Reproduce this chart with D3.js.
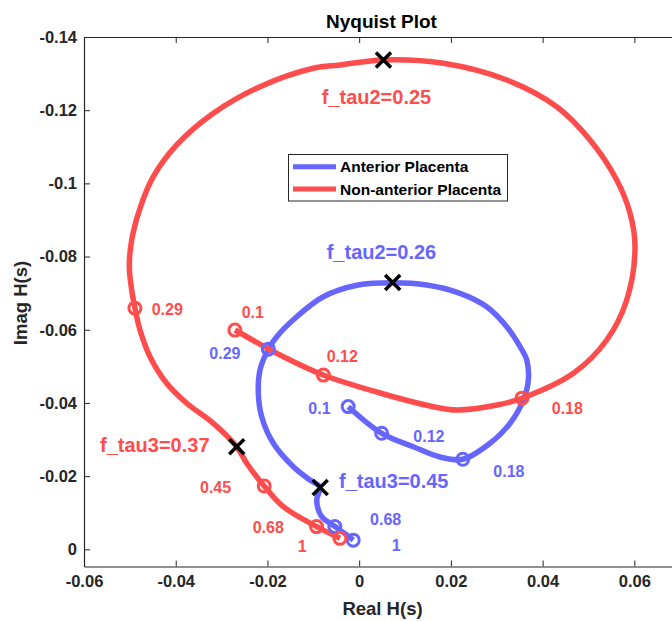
<!DOCTYPE html>
<html>
<head>
<meta charset="utf-8">
<script src="https://cdn.jsdelivr.net/npm/d3@7"></script>
<style>
  html, body { margin: 0; padding: 0; background: #ffffff; overflow: hidden; }
  svg { display: block; font-family: "Liberation Sans", Arial, Helvetica, sans-serif; font-weight: bold; }
</style>
</head>
<body>
<svg id="chart" width="672" height="621"></svg>
<script>
// ---------------- data ----------------
const seriesNames = ["Anterior Placenta", "Non-anterior Placenta"];
const seriesColors = ["#6666ff", "#ff4d4d"];

// Non-anterior placenta (red) Nyquist trace, f = 0.1 ... 1
const redRe = [-0.02707, -0.01726, -0.00782, 0.00455, 0.01545, 0.02134, 0.03006, 0.03545,
  0.0467, 0.05398, 0.05834, 0.06015, 0.05906, 0.05616, 0.05034, 0.04308, 0.03218, 0.01835,
  0.00527, -0.00418, -0.01, -0.02162, -0.0318, -0.03979, -0.04489, -0.04779, -0.0496,
  -0.05012, -0.0496, -0.04888, -0.04779, -0.04561, -0.04197, -0.0376, -0.0318, -0.0267,
  -0.02452, -0.0209, -0.01654, -0.00926, -0.00418];
const redIm = [-0.05993, -0.0531, -0.04763, -0.04271, -0.03916, -0.03807, -0.03943, -0.04127,
  -0.0481, -0.0572, -0.06813, -0.08269, -0.09182, -0.10092, -0.11185, -0.12095, -0.12825, -0.13281,
  -0.13371, -0.13235, -0.13145, -0.12642, -0.11915, -0.11049, -0.10182, -0.09319, -0.08452,
  -0.07723, -0.07086, -0.06586, -0.05993, -0.05263, -0.04536, -0.0399, -0.03443, -0.02804,
  -0.0235, -0.01757, -0.01164, -0.00618, -0.003];

// Anterior placenta (blue) Nyquist trace, f = 0.1 ... 1
const blueRe = [-0.00237, 0.00492, 0.01181, 0.01763, 0.02258, 0.02853, 0.0329, 0.0358, 0.03689,
  0.03654, 0.03508, 0.03218, 0.02781, 0.02199, 0.01473, 0.00732, -0.00025, -0.00782, -0.01362,
  -0.01798, -0.01981, -0.02162, -0.02199, -0.02125, -0.01872, -0.01436, -0.01072, -0.00854,
  -0.00926, -0.00817, -0.00527, -0.00272, -0.00128];
const blueIm = [-0.03897, -0.0317, -0.02804, -0.02522, -0.0246, -0.02897, -0.03443, -0.0408, -0.04627,
  -0.05173, -0.05537, -0.06083, -0.0663, -0.06996, -0.07223, -0.07286, -0.07223, -0.06903, -0.06356,
  -0.0581, -0.05466, -0.049, -0.04263, -0.03624, -0.02897, -0.02257, -0.01894, -0.01694,
  -0.01347, -0.00891, -0.00623, -0.00391, -0.00254];

// frequency markers (circles) and their labels
const redMarkFreq = ["0.1", "0.12", "0.18", "0.29", "0.45", "0.68", "1"];
const redMarkRe = [-0.0271, -0.0078, 0.0355, -0.0489, -0.0207, -0.0093, -0.0042];
const redMarkIm = [-0.0599, -0.0476, -0.0413, -0.0659, -0.0173, -0.0062, -0.0030];
const redLabRe = [-0.02561, -0.00708, 0.04199, -0.04524, -0.0347, -0.02321, -0.0134];
const redLabIm = [-0.06313, -0.05127, -0.03689, -0.06403, -0.0153, -0.00454, 0.00066];

const blueMarkFreq = ["0.1", "0.12", "0.18", "0.29", "0.68", "1"];
const blueMarkRe = [-0.0024, 0.0049, 0.0226, -0.0198, -0.0053, -0.0013];
const blueMarkIm = [-0.0390, -0.0317, -0.0246, -0.0547, -0.0062, -0.0025];
const blueLabRe = [-0.01109, 0.01181, 0.02925, -0.03268, 0.00237, 0.0071];
const blueLabIm = [-0.03697, -0.02941, -0.01984, -0.05192, -0.00664, 0.00038];

// characteristic frequencies (black crosses) and their labels
const crossText = ["f_tau2=0.25", "f_tau3=0.37", "f_tau2=0.26", "f_tau3=0.45"];
const crossSeries = [1, 1, 0, 0];
const crossRe = [0.0053, -0.0267, 0.0073, -0.0085];
const crossIm = [-0.1337, -0.0280, -0.0729, -0.0169];
const crossLabRe = [-0.00817, -0.05651, -0.00708, -0.0044];
const crossLabIm = [-0.12169, -0.02667, -0.07925, -0.01684];

// axes
const xTicks = [-0.06, -0.04, -0.02, 0, 0.02, 0.04, 0.06];
const xTickLabels = ["-0.06", "-0.04", "-0.02", "0", "0.02", "0.04", "0.06"];
const yTicks = [-0.14, -0.12, -0.1, -0.08, -0.06, -0.04, -0.02, 0];
const yTickLabels = ["-0.14", "-0.12", "-0.1", "-0.08", "-0.06", "-0.04", "-0.02", "0"];
const xDomain = [-0.06, 0.07];
const yDomain = [-0.14, 0.0047];

// ---------------- drawing ----------------
const svg = d3.select("#chart");
const mLeft = 84, mTop = 37, mBottom = 566.5, mRight = 680.2;
const axisColor = "#262626";

const x = d3.scaleLinear().domain(xDomain).range([mLeft, mRight]);
const y = d3.scaleLinear().domain(yDomain).range([mTop, mBottom]);

// axes
const gx = svg.append("g").attr("transform", `translate(0,${mBottom})`)
  .call(d3.axisBottom(x).tickValues(xTicks).tickSizeInner(-6).tickSizeOuter(0).tickPadding(9)
    .tickFormat((d, i) => xTickLabels[i]));
const gxTop = svg.append("g").attr("transform", `translate(0,${mTop})`)
  .call(d3.axisTop(x).tickValues(xTicks).tickSizeInner(-6).tickSizeOuter(0).tickFormat(""));
const gy = svg.append("g").attr("transform", `translate(${mLeft},0)`)
  .call(d3.axisLeft(y).tickValues(yTicks).tickSizeInner(-6).tickSizeOuter(0).tickPadding(7)
    .tickFormat((d, i) => yTickLabels[i]));
[gx, gxTop, gy].forEach(g => {
  g.selectAll("path.domain").attr("stroke", axisColor).attr("stroke-width", 1.2);
  g.selectAll(".tick line").attr("stroke", axisColor).attr("stroke-width", 1);
  g.selectAll(".tick text").attr("fill", axisColor)
    .style("font-family", "'Liberation Sans', Arial, sans-serif")
    .style("font-weight", "bold").style("font-size", "16.5px");
});

// title & labels
svg.append("text").attr("x", 381.5).attr("y", 27.5)
  .attr("text-anchor", "middle").attr("fill", "#000").style("font-size", "19px").text("Nyquist Plot");
svg.append("text").attr("x", 382.5).attr("y", 615)
  .attr("text-anchor", "middle").attr("fill", axisColor).style("font-size", "18.5px").text("Real H(s)");
svg.append("text").attr("transform", "translate(27,303) rotate(-90)")
  .attr("text-anchor", "middle").attr("fill", axisColor).style("font-size", "18.5px").text("Imag H(s)");

const plot = svg.append("g");
const line = d3.line().x(d => x(d[0])).y(d => y(d[1])).curve(d3.curveCatmullRom.alpha(0.5));

const blueData = blueRe.map((v, i) => [v, blueIm[i]]);
const redData = redRe.map((v, i) => [v, redIm[i]]);

plot.append("path").datum(blueData).attr("d", line).attr("fill", "none")
  .attr("stroke", seriesColors[0]).attr("stroke-width", 5.5).attr("stroke-linejoin", "round");
plot.append("path").datum(redData).attr("d", line).attr("fill", "none")
  .attr("stroke", seriesColors[1]).attr("stroke-width", 5.5).attr("stroke-linejoin", "round");

function markers(re, im, color) {
  plot.append("g").selectAll("circle").data(re).join("circle")
    .attr("cx", (d) => x(d)).attr("cy", (d, i) => y(im[i])).attr("r", 6)
    .attr("fill", "none").attr("stroke", color).attr("stroke-width", 3);
}
markers(blueMarkRe, blueMarkIm, seriesColors[0]);
markers(redMarkRe, redMarkIm, seriesColors[1]);

function labels(re, im, txt, colorFn, size) {
  plot.append("g").selectAll("text").data(txt).join("text")
    .attr("x", (d, i) => x(re[i])).attr("y", (d, i) => y(im[i]))
    .attr("fill", colorFn).style("font-size", size).text(d => d);
}
labels(blueLabRe, blueLabIm, blueMarkFreq, seriesColors[0], "16px");
labels(redLabRe, redLabIm, redMarkFreq, seriesColors[1], "16px");
labels(crossLabRe, crossLabIm, crossText, (d, i) => seriesColors[crossSeries[i]], "20px");

// crosses
const cs = 7.5;
plot.append("g").selectAll("path").data(crossRe).join("path")
  .attr("d", (d, i) => {
    const cx = x(d), cy = y(crossIm[i]);
    return `M${cx - cs},${cy - cs}L${cx + cs},${cy + cs}M${cx - cs},${cy + cs}L${cx + cs},${cy - cs}`;
  })
  .attr("stroke", "#000").attr("stroke-width", 3.5).attr("fill", "none");

// legend
const lg = svg.append("g");
lg.append("rect").attr("x", 288.5).attr("y", 154.5).attr("width", 219).attr("height", 46.5)
  .attr("fill", "#fff").attr("stroke", axisColor).attr("stroke-width", 1);
seriesNames.forEach((name, i) => {
  const ly = 166.7 + i * 22.3;
  lg.append("line").attr("x1", 293).attr("x2", 336).attr("y1", ly).attr("y2", ly)
    .attr("stroke", seriesColors[i]).attr("stroke-width", 5);
  lg.append("text").attr("x", 340).attr("y", ly).attr("dy", "0.36em")
    .attr("fill", "#000").style("font-size", "15.5px").text(name);
});
</script>
</body>
</html>
